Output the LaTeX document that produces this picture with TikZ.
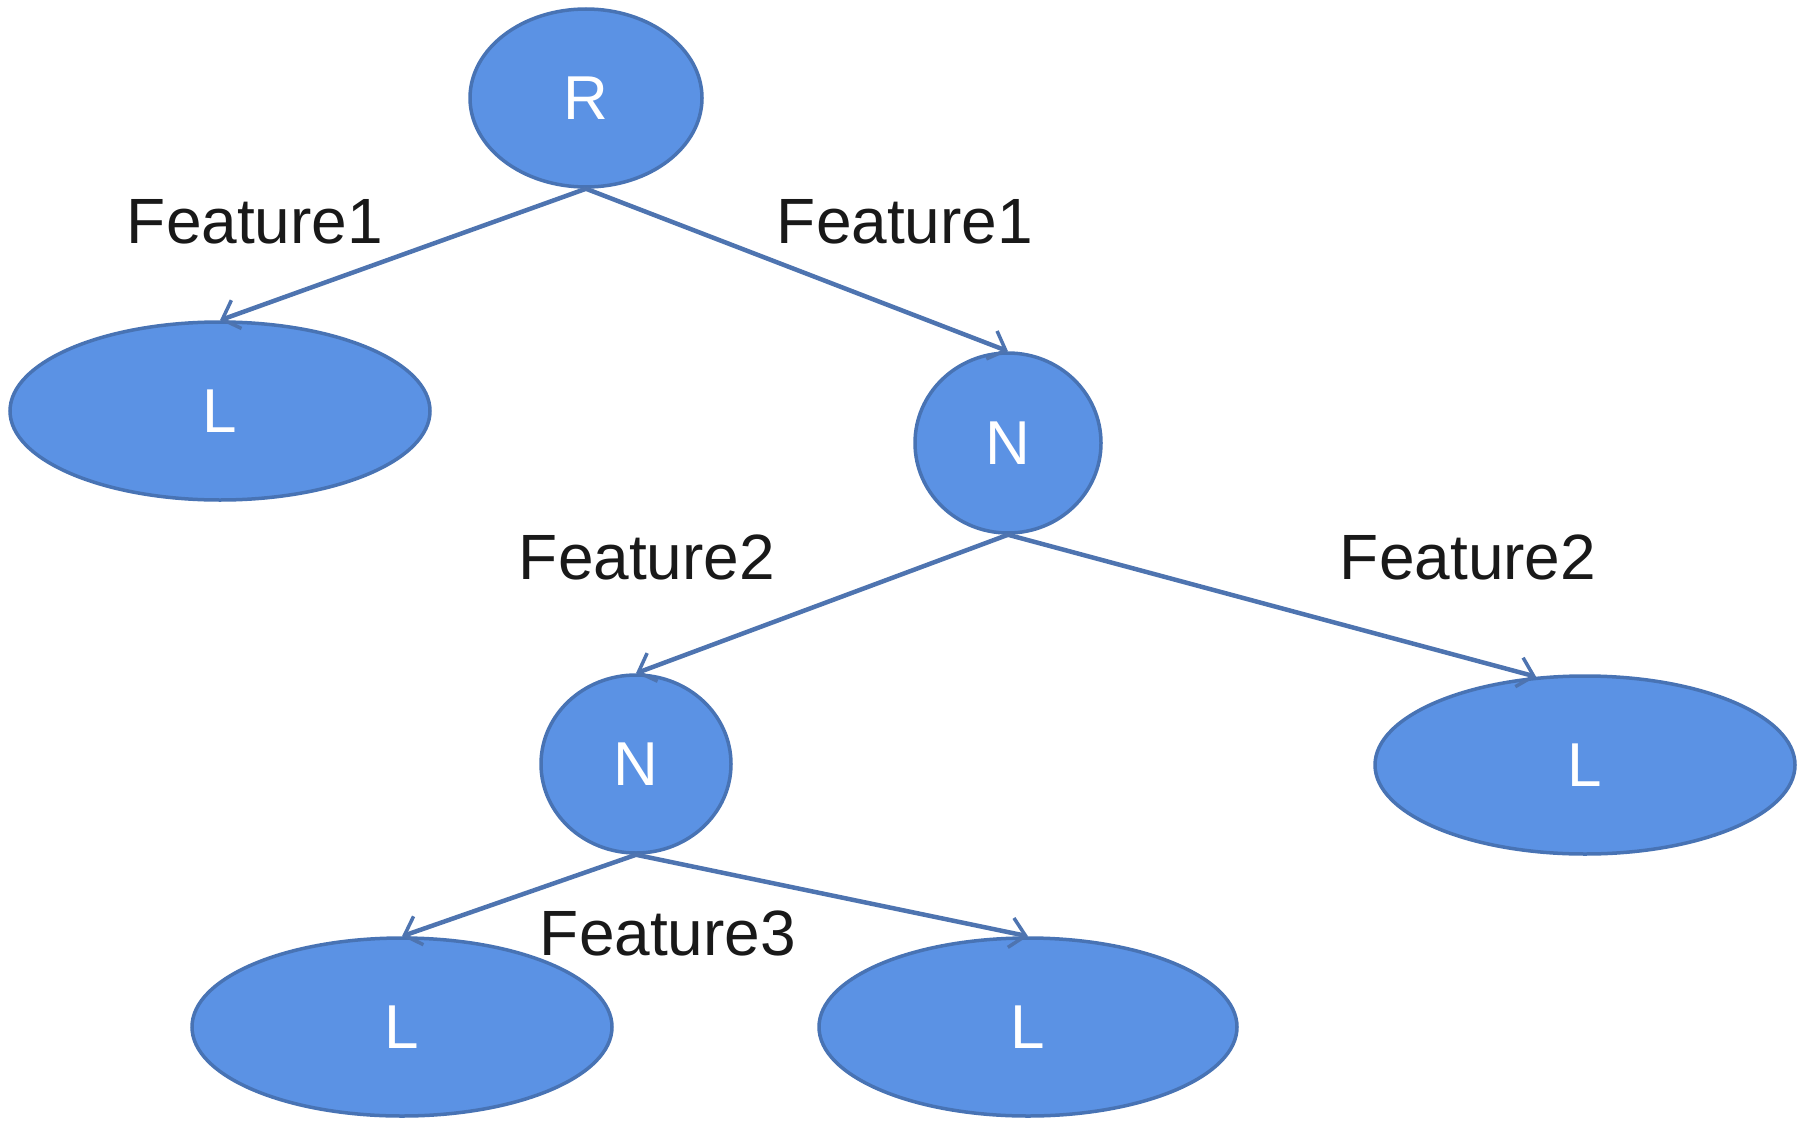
\documentclass[tikz,border=0pt]{standalone}
\usepackage{fontspec}
\setmainfont{Liberation Sans}
\usetikzlibrary{shapes.geometric,arrows.meta}
\definecolor{nodefill}{RGB}{91,146,228}
\definecolor{nodeline}{RGB}{72,115,180}
\definecolor{edgecol}{RGB}{78,116,176}
\tikzset{
  treenode/.style={ellipse, draw=nodeline, line width=3.5pt, fill=nodefill, inner sep=0pt,
    text=white, font=\fontsize{62}{74}\selectfont},
  edgearrow/.style={draw=edgecol, line width=4.5pt, -{Straight Barb[length=15pt,width=30pt,line width=3.5pt]}},
  featlabel/.style={anchor=base, inner sep=0pt, text=black!90, font=\fontsize{64}{76}\selectfont}
}
\begin{document}
\begin{tikzpicture}[x=1pt,y=-1pt]
\useasboundingbox (0,0) rectangle (1804,1124);
\node[treenode, minimum width=232pt, minimum height=178pt] (R) at (586,98) {R};
\node[treenode, minimum width=420pt, minimum height=178pt] (L1) at (220,411) {L};
\node[treenode, minimum width=186pt, minimum height=180pt] (N1) at (1008,443) {N};
\node[treenode, minimum width=190pt, minimum height=178pt] (N2) at (636,764) {N};
\node[treenode, minimum width=420pt, minimum height=178pt] (L2) at (1585,765) {L};
\node[treenode, minimum width=420pt, minimum height=178pt] (L3) at (402,1027) {L};
\node[treenode, minimum width=418pt, minimum height=178pt] (L4) at (1028,1027) {L};

\draw[edgearrow] (R.south) -- (L1.north);
\draw[edgearrow] (R.south) -- (N1.north);
\draw[edgearrow] (N1.south) -- (N2.north);
\draw[edgearrow] (N1.south) -- (L2.119);
\draw[edgearrow] (N2.south) -- (L3.north);
\draw[edgearrow] (N2.south) -- (L4.north);

\node[featlabel] (f1a) at (255,243) {Feature1};
\node[featlabel] (f1b) at (905,243) {Feature1};
\node[featlabel] (f2a) at (647,579) {Feature2};
\node[featlabel] (f2b) at (1468,579) {Feature2};
\node[featlabel] (f3) at (668,955) {Feature3};
\end{tikzpicture}
\end{document}
